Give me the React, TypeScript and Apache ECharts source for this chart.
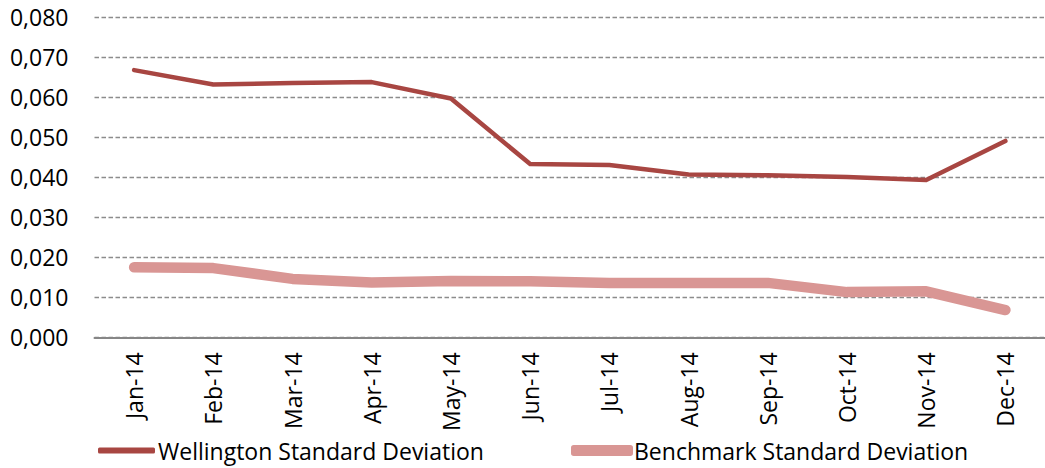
import React, { useEffect, useRef } from "react";
import * as echarts from "echarts";

const categories = ["Jan-14", "Feb-14", "Mar-14", "Apr-14", "May-14", "Jun-14", "Jul-14", "Aug-14", "Sep-14", "Oct-14", "Nov-14", "Dec-14"];
const wellington = [0.0668, 0.0632, 0.0636, 0.0638, 0.0597, 0.0433, 0.0431, 0.0407, 0.0405, 0.0401, 0.0393, 0.0491];
const benchmark = [0.0175, 0.0173, 0.0146, 0.0137, 0.0141, 0.0140, 0.0136, 0.0136, 0.0136, 0.0113, 0.0115, 0.0068];
const seriesNames = ["Wellington Standard Deviation", "Benchmark Standard Deviation"];
const colors = ["#A84642", "#D99694"];

const FONT = "'Open Sans', sans-serif";

export default function App() {
  const ref = useRef<HTMLDivElement>(null);
  useEffect(() => {
    document.body.style.margin = "0";
    document.body.style.overflow = "hidden";
    const chart = echarts.init(ref.current!, null, { renderer: "svg" });
    chart.setOption({
      animation: false,
      backgroundColor: "#ffffff",
      textStyle: { fontFamily: FONT },
      grid: { left: 94.5, right: -10, top: 17.3, bottom: 130.7, containLabel: false },
      xAxis: {
        type: "category",
        data: categories,
        boundaryGap: true,
        axisLine: { lineStyle: { color: "#868686", width: 2 } },
        axisTick: { show: false },
        axisLabel: { rotate: 90, margin: 15, color: "#000", fontSize: 23, fontFamily: FONT, interval: 0 },
        splitLine: { show: false },
      },
      yAxis: {
        type: "value",
        min: 0,
        max: 0.08,
        interval: 0.01,
        axisLine: { show: false },
        axisTick: { show: false },
        axisLabel: {
          color: "#000",
          fontSize: 23,
          fontFamily: FONT,
          margin: 26,
          formatter: (v: number) => v.toFixed(3).replace(".", ","),
        },
        splitLine: { lineStyle: { color: "#8c8c8c", type: [4.5, 2.5], width: 1.3 } },
      },
      legend: [
        {
          data: [seriesNames[0]],
          left: 98,
          top: 439,
          padding: 0,
          icon: "roundRect",
          itemWidth: 57,
          itemHeight: 6,
          textStyle: { fontSize: 23, fontFamily: FONT, color: "#000", padding: [0, 0, 0, -2] },
        },
        {
          data: [seriesNames[1]],
          left: 571,
          top: 439,
          padding: 0,
          icon: "roundRect",
          itemWidth: 62,
          itemHeight: 11,
          textStyle: { fontSize: 23, fontFamily: FONT, color: "#000", padding: [0, 0, 0, -4] },
        },
      ],
      series: [
        {
          name: seriesNames[1],
          type: "line",
          data: benchmark,
          symbol: "none",
          color: colors[1],
          lineStyle: { color: colors[1], width: 10.5, cap: "round", join: "round" },
          z: 2,
        },
        {
          name: seriesNames[0],
          type: "line",
          data: wellington,
          symbol: "none",
          color: colors[0],
          lineStyle: { color: colors[0], width: 4.5, cap: "round", join: "round" },
          z: 3,
        },
      ],
    });
    return () => chart.dispose();
  }, []);
  return <div ref={ref} style={{ width: 1045, height: 468 }} />;
}
